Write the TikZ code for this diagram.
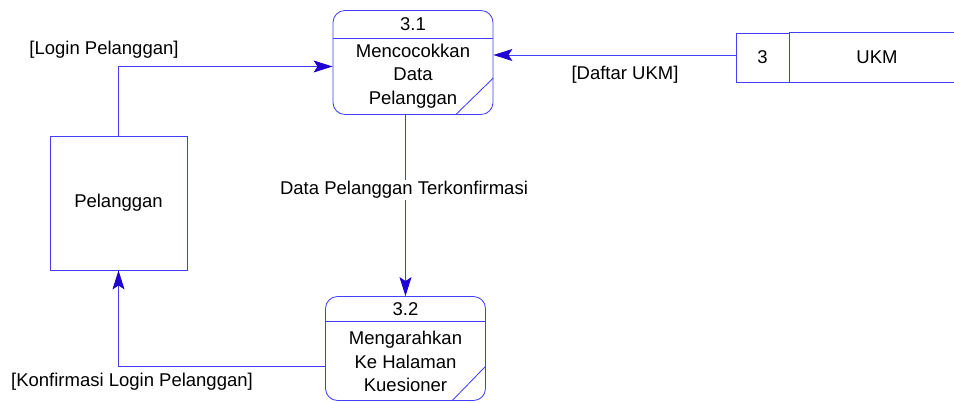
\documentclass[tikz,border=0pt]{standalone}
\usepackage{fontspec}
\setmainfont{Liberation Sans}
\usetikzlibrary{arrows.meta}
\definecolor{dfdline}{RGB}{64,64,250}
\definecolor{dfdhead}{RGB}{30,0,210}

\begin{document}
\begin{tikzpicture}[x=1pt, y=-1pt,
    font=\fontsize{18.5}{23.5}\selectfont,
    line width=0.85pt,
    proc/.style={draw=dfdline, rounded corners=12pt, minimum width=160pt, minimum height=104pt, inner sep=0pt},
    ent/.style={draw=dfdline, minimum width=137pt, minimum height=134pt},
    storeid/.style={draw=dfdline, minimum width=53pt, minimum height=49pt, inner sep=0pt},
    lbl/.style={inner sep=1pt},
    arr/.style={draw=dfdline, -{Stealth[length=19pt, width=12pt, inset=4pt, color=dfdhead]}}
]
\useasboundingbox (0,0) rectangle (954,402);

% processes
\node[proc] (p31) at (413,62.5) {};
\node (p31num) at (413,24) {3.1};
\node[align=center] (p31txt) at (413,76) {Mencocokkan\\Data\\Pelanggan};
\draw[dfdline] ([yshift=-28pt]p31.north west) -- ([yshift=-28pt]p31.north east);
\draw[dfdline] ([xshift=-38pt]p31.south east) -- ([yshift=37pt]p31.south east);

\node[proc] (p32) at (405.5,348.5) {};
\node (p32num) at (405.5,309) {3.2};
\node[align=center] (p32txt) at (405.5,361.5) {Mengarahkan\\Ke Halaman\\Kuesioner};
\draw[dfdline] ([yshift=-25pt]p32.north west) -- ([yshift=-25pt]p32.north east);
\draw[dfdline] ([xshift=-34pt]p32.south east) -- ([yshift=35pt]p32.south east);

% entity
\node[ent] (pel) at (118.5,203) {Pelanggan};

% data store
\node[storeid] (ukmid) at (762.5,57.5) {3};
\node (ukm) at (877,57.5) {UKM};
\draw[dfdline] (ukmid.north east) -- ++(170,0);
\draw[dfdline] (ukmid.south east) -- ++(170,0);

% flows
\draw[arr] (pel.north) |- ([yshift=-4pt]p31.west);
\draw[arr] ([yshift=2.5pt]ukmid.west) -- ([yshift=2.5pt]ukmid.west -| p31.east);
\draw[arr] (p32.north |- p31.south) -- (p32.north);
\draw[arr] ([yshift=-18pt]p32.west) -| (pel.south);

\node[lbl] (lblogin) at (104,50) {[Login Pelanggan]};
\node[lbl] (lbukm) at (625,75) {[Daftar UKM]};
\node[lbl, fill=white] (lbdata) at (404,190) {Data Pelanggan Terkonfirmasi};
\node[lbl] (lbkonf) at (132,382) {[Konfirmasi Login Pelanggan]};
\end{tikzpicture}
\end{document}
